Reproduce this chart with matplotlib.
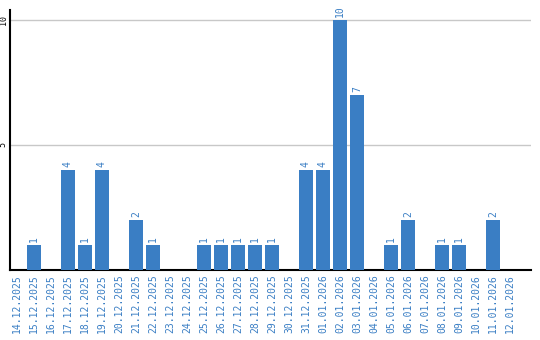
import numpy as np
import matplotlib
matplotlib.use("Agg")
import matplotlib.pyplot as plt

dates = ["14.12.2025", "15.12.2025", "16.12.2025", "17.12.2025", "18.12.2025",
         "19.12.2025", "20.12.2025", "21.12.2025", "22.12.2025", "23.12.2025",
         "24.12.2025", "25.12.2025", "26.12.2025", "27.12.2025", "28.12.2025",
         "29.12.2025", "30.12.2025", "31.12.2025", "01.01.2026", "02.01.2026",
         "03.01.2026", "04.01.2026", "05.01.2026", "06.01.2026", "07.01.2026",
         "08.01.2026", "09.01.2026", "10.01.2026", "11.01.2026", "12.01.2026"]
counts = [0, 1, 0, 4, 1, 4, 0, 2, 1, 0,
          0, 1, 1, 1, 1, 1, 0, 4, 4, 10,
          7, 0, 1, 2, 0, 1, 1, 0, 2, 0]
yticks = [5, 10]

blue = "#3a7ec4"
mono = "DejaVu Sans Mono"

fig = plt.figure(figsize=(5.4, 3.4), dpi=100)
ax = fig.add_axes([0.0194, 0.206, 0.964, 0.765])

x = np.arange(len(dates))
ax.bar(x, counts, width=0.82, color=blue, zorder=3)

for xi, c in zip(x, counts):
    if c > 0:
        ax.text(xi, c + 0.1, str(c), rotation=90, ha="center", va="bottom",
                color=blue, family=mono, fontsize=7)

ax.set_xlim(-0.38, len(dates) + 0.24)
ax.set_ylim(0, 10.4)
ax.set_xticks(x)
ax.set_xticklabels(dates, rotation=90, color=blue, family=mono, fontsize=7)
ax.set_yticks(yticks)
ax.set_yticklabels([str(t) for t in yticks], rotation=90, va="center",
                   family=mono, fontsize=6)
ax.tick_params(length=0, pad=3)
ax.tick_params(axis="y", pad=2)
ax.grid(axis="y", color="#c8c8c8", linewidth=1, zorder=0)

for s in ["top", "right"]:
    ax.spines[s].set_visible(False)
ax.spines["left"].set_linewidth(1.5)
ax.spines["bottom"].set_linewidth(1.5)

fig.savefig("out.png", dpi=100)
